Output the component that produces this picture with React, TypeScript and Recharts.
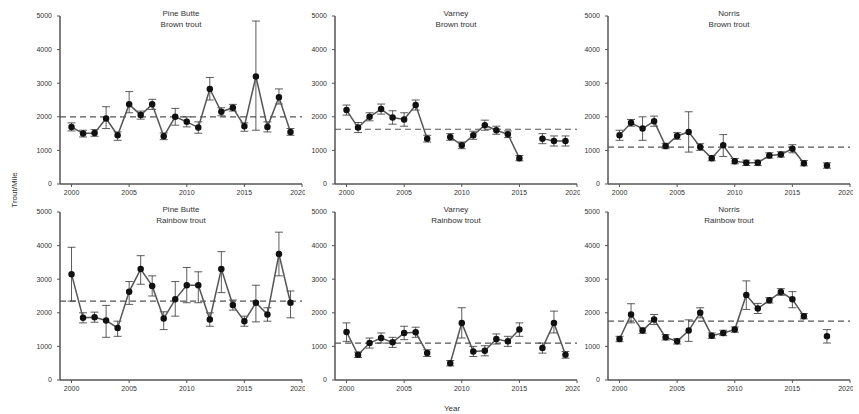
import React from "react";
import {
    ComposedChart,
    Line,
    XAxis,
    YAxis,
    ErrorBar,
    ReferenceLine,
} from "recharts";

const years = [
    2000, 2001, 2002, 2003, 2004, 2005, 2006, 2007, 2008, 2009, 2010, 2011,
    2012, 2013, 2014, 2015, 2016, 2017, 2018, 2019,
];
const xTicks = [2000, 2005, 2010, 2015, 2020];
const yTicks = [0, 1000, 2000, 3000, 4000, 5000];

// trout per mile, null = not sampled
const pineButteBrown = [1700, 1500, 1520, 1950, 1450, 2370, 2050, 2370, 1420, 2000, 1850, 1680, 2830, 2150, 2270, 1720, 3200, 1700, 2580, 1550];
const pineButteBrownErr = [[120, 120], [100, 100], [100, 100], [300, 350], [150, 100], [250, 380], [120, 120], [150, 150], [100, 100], [250, 250], [150, 150], [170, 170], [330, 340], [120, 120], [100, 100], [150, 100], [1600, 1650], [150, 150], [200, 250], [100, 100]];
const pineButteBrownMean = 2000;

const varneyBrown = [2200, 1680, 2000, 2230, 1980, 1920, 2350, 1350, null, 1400, 1150, 1450, 1750, 1600, 1480, 770, null, 1350, 1280, 1280];
const varneyBrownErr = [[150, 150], [150, 150], [120, 120], [150, 150], [200, 200], [200, 200], [150, 150], [100, 100], null, [100, 100], [100, 100], [120, 120], [150, 150], [120, 120], [100, 100], [80, 80], null, [150, 150], [150, 150], [150, 150]];
const varneyBrownMean = 1630;

const norrisBrown = [1450, 1820, 1650, 1870, 1130, 1430, 1550, 1100, 770, 1150, 680, 630, 630, 850, 880, 1050, 620, null, 550, null];
const norrisBrownErr = [[150, 150], [100, 100], [350, 350], [150, 150], [80, 80], [100, 100], [600, 600], [100, 100], [80, 80], [330, 320], [80, 80], [80, 80], [80, 80], [80, 80], [80, 80], [120, 120], [80, 80], null, [80, 80], null];
const norrisBrownMean = 1100;

const pineButteRainbow = [3150, 1850, 1870, 1770, 1550, 2630, 3300, 2800, 1830, 2400, 2820, 2820, 1800, 3300, 2230, 1750, 2300, 1950, 3750, 2300];
const pineButteRainbowErr = [[800, 800], [150, 150], [150, 150], [500, 450], [250, 200], [380, 300], [450, 400], [300, 300], [330, 200], [500, 530], [520, 530], [520, 400], [200, 200], [700, 520], [150, 150], [150, 150], [570, 520], [200, 200], [650, 650], [450, 350]];
const pineButteRainbowMean = 2350;

const varneyRainbow = [1430, 750, 1100, 1250, 1120, 1400, 1420, 800, null, 500, 1700, 850, 870, 1220, 1150, 1500, null, 950, 1700, 750];
const varneyRainbowErr = [[280, 270], [80, 80], [150, 150], [150, 150], [150, 150], [200, 200], [150, 150], [100, 100], null, [80, 80], [450, 450], [150, 150], [150, 150], [150, 150], [150, 150], [200, 200], null, [150, 150], [300, 350], [100, 100]];
const varneyRainbowMean = 1100;

const norrisRainbow = [1220, 1950, 1470, 1800, 1270, 1150, 1470, 2000, 1320, 1400, 1500, 2530, 2130, 2370, 2620, 2400, 1900, null, 1300, null];
const norrisRainbowErr = [[80, 80], [250, 320], [80, 80], [150, 150], [80, 80], [80, 80], [320, 320], [150, 150], [80, 80], [80, 80], [80, 80], [430, 420], [150, 150], [80, 80], [100, 100], [250, 230], [80, 80], null, [200, 200], null];
const norrisRainbowMean = 1750;

const FONT = "'Liberation Sans', Arial, sans-serif";
const AXIS = "#555";

interface PanelProps {
    left: number;
    top: number;
    site: string;
    species: string;
    values: (number | null)[];
    errors: (number[] | null)[];
    mean: number;
}

const Panel: React.FC<PanelProps> = ({ left, top, site, species, values, errors, mean }) => {
    const data = years.map((year, i) => ({
        year,
        value: values[i],
        err: values[i] == null ? undefined : errors[i],
    }));
    return (
        <div style={{ position: "absolute", left, top, width: 305, height: 200 }}>
            <ComposedChart
                width={305}
                height={200}
                data={data}
                margin={{ top: 16, right: 3, bottom: 2, left: 20 }}
            >
                <XAxis
                    dataKey="year"
                    type="number"
                    domain={[1999, 2020]}
                    ticks={xTicks}
                    height={14}
                    tickSize={3}
                    tickMargin={3}
                    tick={{ fontSize: 7, fill: "#333", fontFamily: FONT }}
                    axisLine={{ stroke: AXIS, strokeWidth: 1.5 }}
                    tickLine={{ stroke: AXIS }}
                />
                <YAxis
                    domain={[0, 5000]}
                    ticks={yTicks}
                    width={40}
                    tickSize={3}
                    tickMargin={5}
                    interval={0}
                    tick={{ fontSize: 7, fill: "#333", fontFamily: FONT }}
                    axisLine={{ stroke: AXIS, strokeWidth: 1.5 }}
                    tickLine={{ stroke: AXIS }}
                />
                <ReferenceLine
                    y={mean}
                    stroke="#555"
                    strokeWidth={1.2}
                    strokeDasharray="6 4"
                />
                <Line
                    dataKey="value"
                    stroke="#555"
                    strokeWidth={1.5}
                    connectNulls={false}
                    dot={{ r: 2.5, fill: "#111", stroke: "#111" }}
                    isAnimationActive={false}
                >
                    <ErrorBar dataKey="err" width={4} stroke="#333" strokeWidth={0.8} direction="y" />
                </Line>
            </ComposedChart>
            <div
                style={{
                    position: "absolute",
                    left: 60,
                    width: 242,
                    top: 8,
                    textAlign: "center",
                    fontFamily: FONT,
                    fontSize: 8,
                    lineHeight: "11px",
                    color: "#333",
                }}
            >
                {site}
                <br />
                {species}
            </div>
        </div>
    );
};

export default function App() {
    return (
        <div
            style={{
                position: "absolute",
                left: 0,
                top: 0,
                width: 859,
                height: 414,
                background: "#fff",
                overflow: "hidden",
            }}
        >
            <Panel left={0} top={0} site="Pine Butte" species="Brown trout" values={pineButteBrown} errors={pineButteBrownErr} mean={pineButteBrownMean} />
            <Panel left={275} top={0} site="Varney" species="Brown trout" values={varneyBrown} errors={varneyBrownErr} mean={varneyBrownMean} />
            <Panel left={548} top={0} site="Norris" species="Brown trout" values={norrisBrown} errors={norrisBrownErr} mean={norrisBrownMean} />
            <Panel left={0} top={196} site="Pine Butte" species="Rainbow trout" values={pineButteRainbow} errors={pineButteRainbowErr} mean={pineButteRainbowMean} />
            <Panel left={275} top={196} site="Varney" species="Rainbow trout" values={varneyRainbow} errors={varneyRainbowErr} mean={varneyRainbowMean} />
            <Panel left={548} top={196} site="Norris" species="Rainbow trout" values={norrisRainbow} errors={norrisRainbowErr} mean={norrisRainbowMean} />
            <div
                style={{
                    position: "absolute",
                    left: 14,
                    top: 190,
                    transform: "translate(-50%, -50%) rotate(-90deg)",
                    fontFamily: FONT,
                    fontSize: 8,
                    color: "#333",
                    whiteSpace: "nowrap",
                }}
            >
                Trout/Mile
            </div>
            <div
                style={{
                    position: "absolute",
                    left: 452,
                    top: 408,
                    transform: "translate(-50%, -50%)",
                    fontFamily: FONT,
                    fontSize: 8,
                    color: "#333",
                }}
            >
                Year
            </div>
        </div>
    );
}
